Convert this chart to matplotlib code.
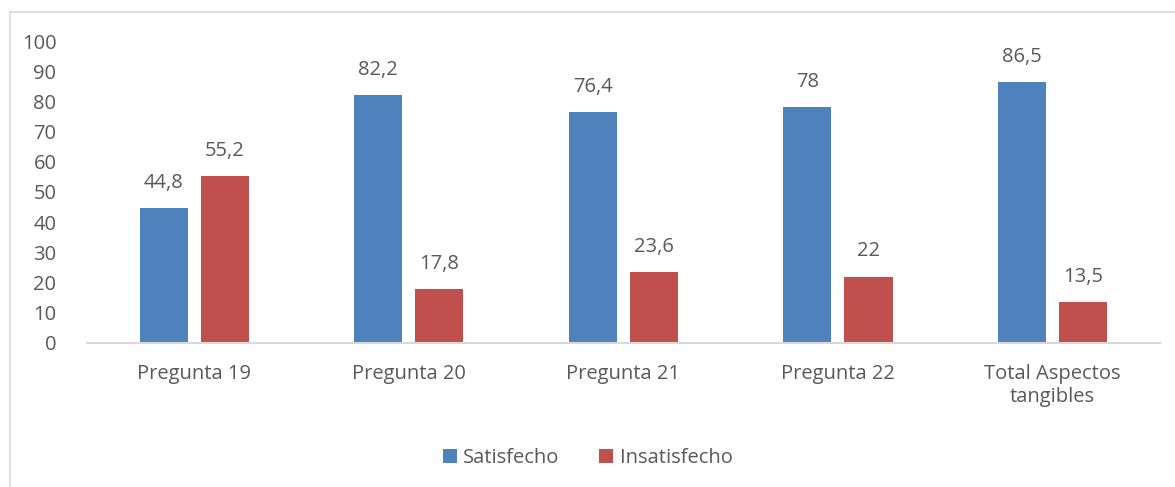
import matplotlib
matplotlib.use("Agg")
import matplotlib.pyplot as plt
import numpy as np

categorias = ["Pregunta 19", "Pregunta 20", "Pregunta 21", "Pregunta 22",
              "Total Aspectos\ntangibles"]
satisfecho = [44.8, 82.2, 76.4, 78, 86.5]
insatisfecho = [55.2, 17.8, 23.6, 22, 13.5]
series = ["Satisfecho", "Insatisfecho"]

azul = "#4F81BD"
rojo = "#C0504D"
gris_texto = "#595959"

plt.rcParams["font.family"] = ["Open Sans", "DejaVu Sans"]

fig = plt.figure(figsize=(11.75, 4.87), dpi=100)
ax = fig.add_axes([0.074, 0.2957, 0.913, 0.6201])

x = np.arange(len(categorias))
ancho = 0.225
sep = 0.1425

b1 = ax.bar(x - sep, satisfecho, ancho, color=azul, label=series[0])
b2 = ax.bar(x + sep, insatisfecho, ancho, color=rojo, label=series[1])


def etiqueta(v):
    return f"{v:g}".replace(".", ",")


for barras, vals in ((b1, satisfecho), (b2, insatisfecho)):
    for r, v in zip(barras, vals):
        ax.text(r.get_x() + r.get_width() / 2, v + 5, etiqueta(v),
                ha="center", va="bottom", fontsize=14.5, color=gris_texto)

ax.set_xlim(-0.5, len(categorias) - 0.5)
ax.set_ylim(0, 100)
ax.set_yticks(range(0, 101, 10))
ax.set_xticks(x)
ax.set_xticklabels(categorias, linespacing=1.2)
ax.tick_params(axis="both", length=0, labelsize=14.5, colors=gris_texto)
ax.tick_params(axis="x", pad=15)
ax.tick_params(axis="y", pad=22)
for lbl in ax.get_yticklabels():
    lbl.set_horizontalalignment("right")

for s in ("top", "right", "left"):
    ax.spines[s].set_visible(False)
ax.spines["bottom"].set_color("#D9D9D9")
ax.spines["bottom"].set_linewidth(1.5)

leg = fig.legend(loc="center", bbox_to_anchor=(0.5, 0.06), ncol=2,
                 frameon=False, fontsize=14.5, handlelength=0.7,
                 handleheight=0.7, handletextpad=0.3, columnspacing=2.0)
for t in leg.get_texts():
    t.set_color(gris_texto)

# marco del grafico
fig.add_artist(plt.Line2D([0.0085, 0.0085], [0, 0.975], color="#D9D9D9",
                          lw=1.2, transform=fig.transFigure))
fig.add_artist(plt.Line2D([0.0085, 1], [0.975, 0.975], color="#D9D9D9",
                          lw=1.2, transform=fig.transFigure))

fig.savefig("out.png", dpi=100)
